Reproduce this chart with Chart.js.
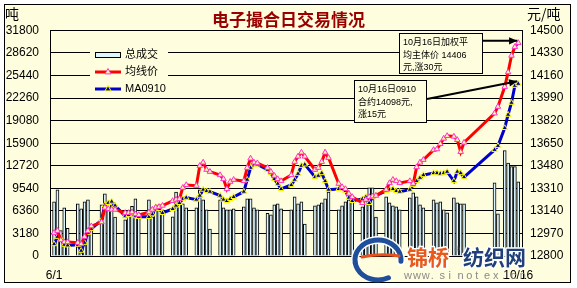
<!DOCTYPE html>
<html>
<head>
<meta charset="utf-8">
<script src="https://cdn.jsdelivr.net/npm/chart.js@4.4.0/dist/chart.umd.min.js"></script>
<style>
  html, body { margin: 0; padding: 0; background: #fff; }
  #wrap { position: relative; width: 577px; height: 288px; }
</style>
</head>
<body>
<div id="wrap"><canvas id="c" width="577" height="288"></canvas></div>
<script>
// ── 电子撮合日交易情况 — 成交量 (柱) + 均线价 / MA0910 (线) ──

const dates = [
  '6/1','6/2','6/3','6/4','6/5','6/8','6/9','6/10','6/11','6/12','6/15','6/16','6/17','6/18','6/19','6/22','6/23','6/24','6/25','6/26','6/29','6/30',
  '7/1','7/2','7/3','7/6','7/7','7/8','7/9','7/10','7/13','7/14','7/15','7/16','7/17','7/20','7/21','7/22','7/23','7/24','7/27','7/28','7/29','7/30','7/31',
  '8/3','8/4','8/5','8/6','8/7','8/10','8/11','8/12','8/13','8/14','8/17','8/18','8/19','8/20','8/21','8/24','8/25','8/26','8/27','8/28','8/31',
  '9/1','9/2','9/3','9/4','9/7','9/8','9/9','9/10','9/11','9/14','9/15','9/16','9/17','9/18','9/21','9/22','9/23','9/24','9/25','9/27','9/28','9/29','9/30',
  '10/9','10/10','10/12','10/13','10/14','10/15','10/16'
];

// 总成交 (吨)
const volume = [
  7630, 9325, 3600, 6780, 3900, 7350, 6640, 7630, 7915, 4200, 7205, 8760, 6500, 7205, 5500, 5085, 6200, 7000, 8055, 5935, 7915, 5510,
  6500, 7200, 6500, 5510, 9000, 7915, 7350, 6780, 6780, 9325, 7915, 6500, 3800, 7915, 6780, 6500, 6500, 6640, 6925, 8055, 8055, 6780, 6500,
  6000, 5795, 7205, 7350, 6640, 6500, 8340, 7350, 7630, 4500, 7065, 7205, 7490, 8055, 9000, 6500, 7065, 7630, 7915, 7630, 6925,
  8340, 9610, 9610, 5500, 8340, 7490, 7065, 6925, 6500, 8200, 8900, 8340, 7205, 6780, 7915, 7490, 7630, 6500, 6075, 8200, 7490, 7350, 7350,
  10300, 5935, 14850, 13100, 12600, 12600, 10450
];

// 均线价 (元/吨)
const avgPrice = [
  12975, 12990, 12920, 12905, 12905, 12900, 12890, 12945, 12990, 13025, 13055, 13165, 13155, 13150, 13150, 13125, 13125, 13130, 13115, 13110, 13130, 13150,
  13165, 13170, 13180, 13215, 13225, 13230, 13315, 13335, 13330, 13480, 13505, 13450, 13435, 13410, 13380, 13305, 13360, 13375, 13365, 13465, 13535, 13505, 13500,
  13465, 13435, 13405, 13380, 13365, 13410, 13510, 13550, 13580, 13550, 13450, 13465, 13510, 13580, 13540, 13345, 13320, 13305, 13270, 13245, 13200,
  13225, 13245, 13250, 13255, 13300, 13350, 13375, 13365, 13350, 13365, 13345, 13470, 13505, 13525, 13600, 13605, 13645, 13685, 13705, 13700, 13675, 13585, 13655,
  13875, 13925, 14075, 14185, 14310, 14376, 14406
];

// MA0910 合约 (元/吨)
const ma0910 = [
  12890, 12945, 12930, 12885, 12880, 12885, 12840, 12900, 12975, 13005, 13070, 13185, 13200, 13210, 13180, 13100, 13110, 13125, 13100, 13095, 13095, 13115,
  13170, 13155, 13125, 13155, 13180, 13200, 13230, 13240, 13225, 13255, 13300, 13290, 13285, 13255, 13225, 13215, 13230, 13245, 13285, 13375, 13465, 13490, 13490,
  13450, 13425, 13380, 13345, 13305, 13335, 13375, 13420, 13480, 13490, 13395, 13405, 13425, 13365, 13300, 13305, 13305, 13290, 13240, 13215, 13230,
  13245, 13200, 13245, 13255, 13290, 13300, 13305, 13290, 13285, 13300, 13335, 13365, 13390, 13410, 13425, 13425, 13420, 13425, 13435, 13365, 13435, 13425, 13395,
  13600, 13630, 13765, 13865, 13955, 14083, 14098
];

const leftTicks  = [0, 3180, 6360, 9540, 12720, 15900, 19080, 22260, 25440, 28620, 31800];
const rightTicks = [12800, 12970, 13140, 13310, 13480, 13650, 13820, 13990, 14160, 14330, 14500];
const xTickLabels = ['6/1', '10/16'];

const BG = '#FEFEDF';
const FONT = '"Liberation Sans", Arial, "Noto Sans CJK SC", sans-serif';

// 日期 -> 距 6/1 的天数 (日期轴, 节假日留空)
function dayOf(s) {
  const [m, d] = s.split('/').map(Number);
  return (Date.UTC(2009, m - 1, d) - Date.UTC(2009, 5, 1)) / 86400000;
}
const xs = dates.map(dayOf);
const pts = arr => arr.map((v, i) => ({ x: xs[i], y: v }));

function drawTri(ctx, x, y, r, fill, stroke) {
  ctx.beginPath();
  ctx.moveTo(x, y - r);
  ctx.lineTo(x + r, y + r * 0.8);
  ctx.lineTo(x - r, y + r * 0.8);
  ctx.closePath();
  ctx.fillStyle = fill; ctx.fill();
  ctx.strokeStyle = stroke; ctx.lineWidth = 1; ctx.stroke();
}

function drawArrow(ctx, x1, y1, x2, y2) {
  ctx.strokeStyle = '#000'; ctx.fillStyle = '#000'; ctx.lineWidth = 2;
  ctx.beginPath(); ctx.moveTo(x1, y1); ctx.lineTo(x2, y2); ctx.stroke();
  const a = Math.atan2(y2 - y1, x2 - x1);
  ctx.beginPath();
  ctx.moveTo(x2, y2);
  ctx.lineTo(x2 - 9 * Math.cos(a - 0.42), y2 - 9 * Math.sin(a - 0.42));
  ctx.lineTo(x2 - 9 * Math.cos(a + 0.42), y2 - 9 * Math.sin(a + 0.42));
  ctx.closePath(); ctx.fill();
}

// 背景 + 外框
const framePlugin = {
  id: 'frame',
  beforeDraw(chart) {
    const ctx = chart.ctx;
    ctx.save();
    ctx.fillStyle = '#fff';
    ctx.fillRect(0, 0, chart.width, chart.height);
    ctx.fillStyle = BG;
    ctx.fillRect(4, 4, 567, 279);
    ctx.strokeStyle = '#000'; ctx.lineWidth = 1;
    ctx.strokeRect(4.5, 4.5, 566, 278);
    ctx.restore();
  }
};

// 图例 (图表区内, 左上)
const legendPlugin = {
  id: 'boxLegend',
  afterDatasetsDraw(chart) {
    const ctx = chart.ctx;
    const ds = chart.data.datasets;
    const bar = ds.find(d => d.type === 'bar');
    const red = ds.find(d => d.label === '均线价');
    const blue = ds.find(d => d.label === 'MA0910');
    ctx.save();
    ctx.fillStyle = BG;
    ctx.fillRect(90, 46, 78, 50);
    // 总成交
    ctx.fillStyle = bar.backgroundColor;
    ctx.fillRect(95.5, 52.5, 25, 5);
    ctx.strokeStyle = '#000'; ctx.lineWidth = 1;
    ctx.strokeRect(95.5, 52.5, 25, 5);
    // 均线价
    ctx.strokeStyle = red.borderColor; ctx.lineWidth = 3;
    ctx.beginPath(); ctx.moveTo(95, 72); ctx.lineTo(121, 72); ctx.stroke();
    drawTri(ctx, 108, 71.5, 3, red.pointBackgroundColor, red.pointBorderColor);
    // MA0910
    ctx.strokeStyle = blue.borderColor; ctx.lineWidth = 3;
    ctx.beginPath(); ctx.moveTo(95, 89); ctx.lineTo(121, 89); ctx.stroke();
    drawTri(ctx, 108, 88.5, 3, blue.pointBackgroundColor, blue.pointBorderColor);

    ctx.fillStyle = '#000';
    ctx.font = '11px ' + FONT;
    ctx.textBaseline = 'middle'; ctx.textAlign = 'left';
    ctx.fillText(bar.label, 125, 55);
    ctx.fillText(red.label, 125, 72);
    ctx.fillText(blue.label, 125, 89);
    ctx.restore();
  }
};

// 单位, 标注框, 箭头, 水印
const notePlugin = {
  id: 'notes',
  afterDraw(chart) {
    const ctx = chart.ctx;
    const sx = chart.scales.x, sy = chart.scales.y1;
    ctx.save();
    ctx.fillStyle = '#000';
    ctx.font = '14px "Noto Sans CJK SC", sans-serif';
    ctx.textBaseline = 'middle'; ctx.textAlign = 'left';
    ctx.fillText('吨', 5, 14);
    ctx.fillText('元/吨', 527, 14);

    const n = xs.length - 1;
    const rx = sx.getPixelForValue(xs[n]), ry = sy.getPixelForValue(avgPrice[n]);
    const bx = sx.getPixelForValue(xs[n]), by = sy.getPixelForValue(ma0910[n]);

    // 框 1
    ctx.fillStyle = BG; ctx.fillRect(399.5, 33.5, 83, 40);
    ctx.strokeStyle = '#000'; ctx.lineWidth = 1; ctx.strokeRect(399.5, 33.5, 83, 40);
    ctx.fillStyle = '#000';
    ctx.font = '9px ' + FONT;
    ctx.fillText('10月16日加权平', 403, 43);
    ctx.fillText('均主体价 14406', 403, 55.5);
    ctx.fillText('元,涨30元', 403, 68);
    drawArrow(ctx, 483, ry - 2, rx - 1, ry - 2);

    // 框 2
    ctx.fillStyle = BG; ctx.fillRect(354.5, 80.5, 72, 42);
    ctx.strokeStyle = '#000'; ctx.lineWidth = 1; ctx.strokeRect(354.5, 80.5, 72, 42);
    ctx.fillStyle = '#000';
    ctx.fillText('10月16日0910', 358, 90);
    ctx.fillText('合约14098元,', 358, 102.5);
    ctx.fillText('涨15元', 358, 115);
    drawArrow(ctx, 427, 99, bx - 1, by - 2.5);

    // 水印
    ctx.lineCap = 'round';
    ctx.strokeStyle = '#fff'; ctx.lineWidth = 8;
    ctx.beginPath(); ctx.ellipse(378, 260, 23, 20, 0, Math.PI * 0.95, Math.PI * 2.02); ctx.stroke();
    ctx.strokeStyle = '#1F4F9A'; ctx.lineWidth = 5;
    ctx.beginPath(); ctx.ellipse(378, 260, 23, 20, 0, Math.PI * 0.95, Math.PI * 2.02); ctx.stroke();
    ctx.beginPath(); ctx.ellipse(378, 260, 23, 20, 0, Math.PI * 0.35, Math.PI * 0.95); ctx.stroke();
    ctx.strokeStyle = '#E8501E'; ctx.lineWidth = 3;
    ctx.beginPath(); ctx.moveTo(362, 257); ctx.quadraticCurveTo(380, 253, 399, 256); ctx.stroke();

    ctx.font = 'bold 21px "Noto Sans CJK SC", sans-serif';
    ctx.textBaseline = 'middle';
    ctx.lineJoin = 'round';
    ctx.strokeStyle = '#fff'; ctx.lineWidth = 3;
    ctx.strokeText('锦桥', 407, 257);
    ctx.fillStyle = '#E85A1C'; ctx.fillText('锦桥', 407, 257);
    ctx.strokeText('纺织网', 463, 257);
    ctx.fillStyle = '#1F3F7A'; ctx.fillText('纺织网', 463, 257);
    ctx.font = '8px ' + FONT;
    ctx.fillStyle = '#888'; ctx.fillText('®', 454, 250);

    ctx.font = '11px ' + FONT;
    ctx.fillStyle = '#8A8A8A';
    const site = 'www.sinotex.cn';
    for (let i = 0; i < site.length; i++) ctx.fillText(site[i], 404 + i * 8.9, 276);
    ctx.restore();
  }
};

new Chart(document.getElementById('c'), {
  type: 'bar',
  data: {
    datasets: [
      { type: 'line', label: '均线价', data: pts(avgPrice), yAxisID: 'y1',
        borderColor: '#FF0000', borderWidth: 3, tension: 0,
        pointStyle: 'triangle', pointRadius: 3.2, pointBackgroundColor: '#FFF3B0',
        pointBorderColor: '#FF33CC', pointBorderWidth: 1, order: 1 },
      { type: 'line', label: 'MA0910', data: pts(ma0910), yAxisID: 'y1',
        borderColor: '#0000CC', borderWidth: 3, tension: 0,
        pointStyle: 'triangle', pointRadius: 3.2, pointBackgroundColor: '#000099',
        pointBorderColor: '#FFFF00', pointBorderWidth: 1, order: 2 },
      { type: 'bar', label: '总成交', data: pts(volume), yAxisID: 'y',
        backgroundColor: '#DDF6FF', borderColor: '#000', borderWidth: 1,
        barThickness: 3, order: 3 }
    ]
  },
  options: {
    responsive: false,
    animation: false,
    events: [],
    layout: { padding: { left: 4, right: 4, top: 5, bottom: 5 } },
    plugins: {
      legend: { display: false },
      tooltip: { enabled: false },
      title: {
        display: true, text: '电子撮合日交易情况', color: '#990000',
        font: { family: '"Noto Sans CJK SC", sans-serif', size: 17, weight: 'bold' },
        padding: { top: 4, bottom: 1 }
      }
    },
    scales: {
      x: {
        type: 'linear', min: -1.2, max: 138.1, offset: false,
        grid: { display: false, offset: false, drawTicks: false },
        border: { display: true, color: '#000' },
        afterBuildTicks: s => { s.ticks = [{ value: xs[0] }, { value: xs[xs.length - 1] }]; },
        afterFit: s => { s.height = 27; },
        ticks: { autoSkip: false, maxRotation: 0, padding: 12, color: '#000',
          font: { family: FONT, size: 12 }, callback: (v, i) => xTickLabels[i] }
      },
      y: {
        position: 'left', min: 0, max: 31800,
        grid: { color: '#000', lineWidth: 1, drawTicks: false },
        border: { display: true, color: '#000' },
        afterBuildTicks: s => { s.ticks = leftTicks.map(v => ({ value: v })); },
        afterFit: s => { s.width = 46; },
        ticks: { padding: 11, color: '#000', font: { family: FONT, size: 12 }, callback: v => String(v) }
      },
      y1: {
        position: 'right', min: 12800, max: 14500,
        grid: { display: false, drawTicks: false },
        border: { display: true, color: '#000' },
        afterBuildTicks: s => { s.ticks = rightTicks.map(v => ({ value: v })); },
        afterFit: s => { s.width = 51; },
        ticks: { padding: 8, color: '#000', font: { family: FONT, size: 12 }, callback: v => String(v) }
      }
    }
  },
  plugins: [framePlugin, legendPlugin, notePlugin]
});
</script>
</body>
</html>
